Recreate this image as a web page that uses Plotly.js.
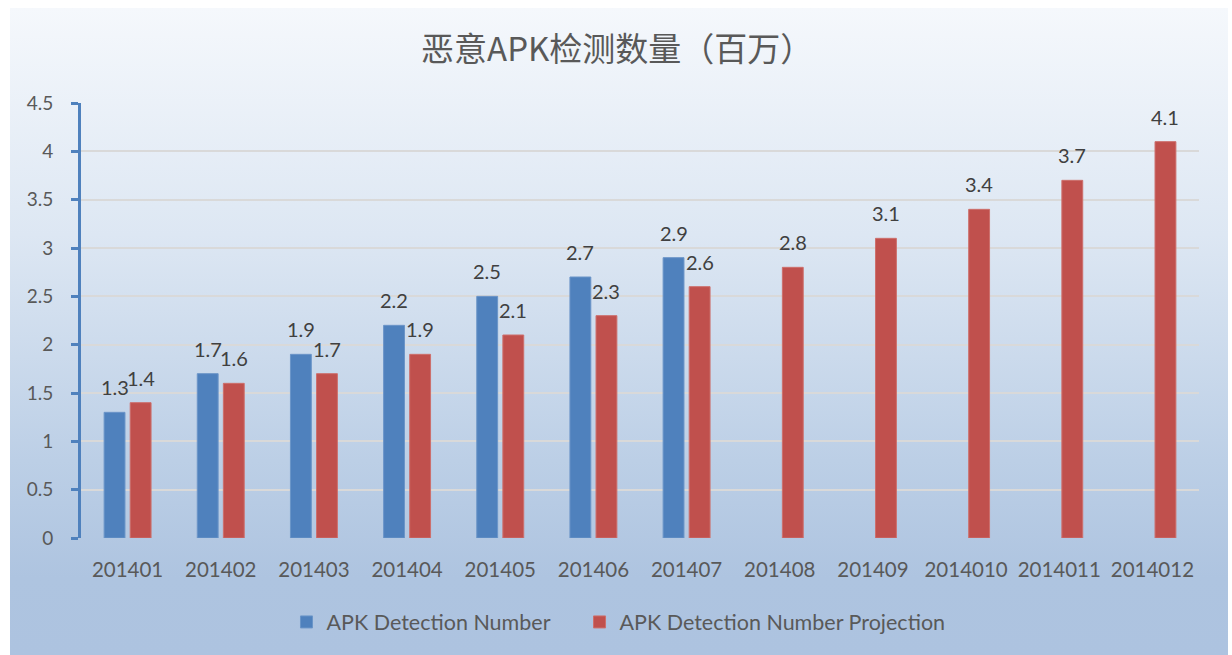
<!DOCTYPE html>
<html>
<head>
<meta charset="utf-8">
<script src="https://cdn.plot.ly/plotly-3.0.1.min.js"></script>
<style>
html,body{margin:0;padding:0;background:#ffffff;}
#bg{position:absolute;left:10px;top:8px;width:1218px;height:647px;
background:linear-gradient(to bottom,#f5f8fc 0%,#dde7f3 35%,#bccfe6 70%,#aec4e0 88%,#adc3e0 100%);}
#chart{position:absolute;left:0;top:0;width:1232px;height:655px;}
</style>
</head>
<body>
<div id="bg"></div>
<div id="chart"></div>
<script>
const categories = ["201401","201402","201403","201404","201405","201406","201407","201408","201409","2014010","2014011","2014012"];
const detectionValues = [1.3,1.7,1.9,2.2,2.5,2.7,2.9,null,null,null,null,null];
const projectionValues = [1.4,1.6,1.7,1.9,2.1,2.3,2.6,2.8,3.1,3.4,3.7,4.1];
const seriesNames = ["APK Detection Number","APK Detection Number Projection"];
const titleText = "恶意APK检测数量（百万）";

const fontFam = "Lato, 'Open Sans', 'Noto Sans', sans-serif";

const traces = [
  {type:"bar", name:seriesNames[0], x:categories, y:detectionValues, legend:"legend",
   marker:{color:"#4f81bd", line:{color:"#6b95c8", width:1}}, hoverinfo:"x+y"},
  {type:"bar", name:seriesNames[1], x:categories, y:projectionValues, legend:"legend2",
   marker:{color:"#c0504d", line:{color:"#cd6f6c", width:1}}, hoverinfo:"x+y"}
];

// data labels built from the series arrays (x = category index on the category axis)
const annotations = [];
[[detectionValues,-13],[projectionValues,13]].forEach(([vals,dx]) => {
  vals.forEach((v,i) => {
    if (v === null) return;
    annotations.push({x:i, y:v, xref:"x", yref:"y", text:String(v),
      showarrow:false, xshift:dx, yanchor:"bottom", yshift:11,
      font:{family:fontFam, size:20, color:"#404040"}});
  });
});

const legendFont = {family:fontFam, size:21.5, color:"#595959"};
const layout = {
  width:1232, height:655,
  paper_bgcolor:"rgba(0,0,0,0)", plot_bgcolor:"rgba(0,0,0,0)",
  margin:{l:81, r:33, t:103, b:117},
  barmode:"group", bargap:0.44, bargroupgap:0.2,
  title:{text:titleText, x:0.501, xref:"container", xanchor:"center", y:0.925, yref:"container", yanchor:"middle",
         font:{family:"'Noto Sans CJK SC', sans-serif", size:33, color:"#595959"}},
  xaxis:{type:"category", showgrid:false, zeroline:false, showline:false, ticks:"",
         tickfont:{family:fontFam, size:20.5, color:"#595959"}, ticklabelstandoff:17},
  yaxis:{range:[0,4.5], dtick:0.5, tick0:0, showgrid:true, gridcolor:"#d9d9d9", gridwidth:2,
         zeroline:false, showline:true, linecolor:"#4f81bd", linewidth:3,
         ticks:"outside", ticklen:7, tickwidth:3, tickcolor:"#4f81bd",
         tickfont:{family:fontFam, size:19, color:"#595959"}, ticklabelstandoff:14},
  legend:{orientation:"h", x:0.1838, xanchor:"left", y:-0.193, yanchor:"middle",
          font:legendFont, bgcolor:"rgba(0,0,0,0)", itemwidth:30},
  legend2:{orientation:"h", x:0.4459, xanchor:"left", y:-0.193, yanchor:"middle",
          font:legendFont, bgcolor:"rgba(0,0,0,0)", itemwidth:30},
  annotations:annotations,
  showlegend:true
};

Plotly.newPlot("chart", traces, layout, {displayModeBar:false, staticPlot:true});
</script>
</body>
</html>
